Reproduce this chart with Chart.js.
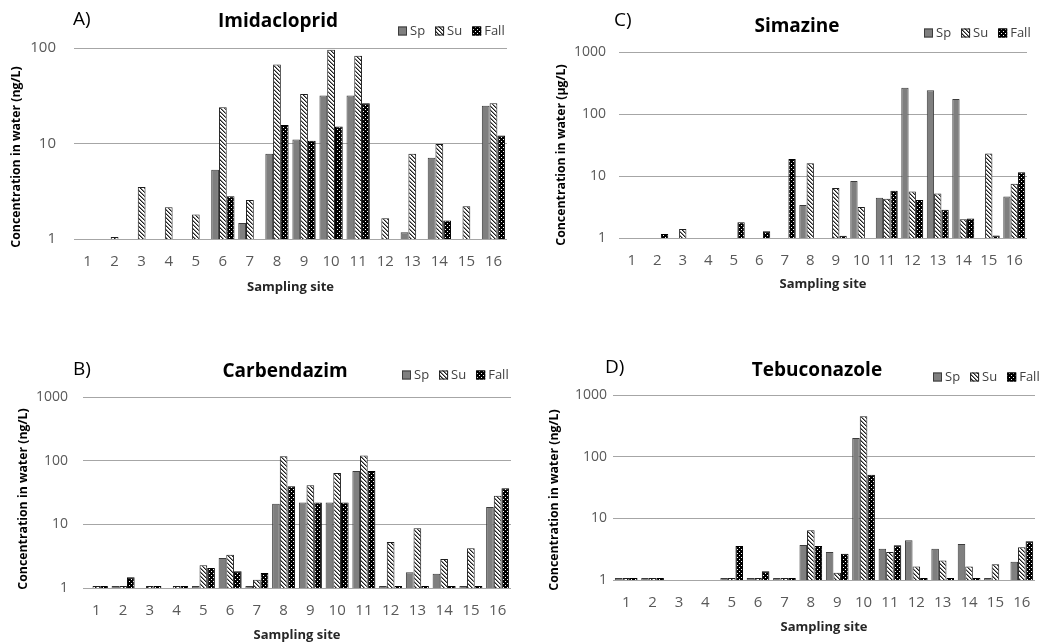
<!DOCTYPE html>
<html lang="en">
<head>
<meta charset="UTF-8">
<title>Concentration in water by sampling site</title>
<script src="https://cdn.jsdelivr.net/npm/chart.js"></script>
<style>
  body { margin: 0; background: #fff; width: 1047px; height: 644px; position: relative; overflow: hidden; }
  canvas { position: absolute; }
</style>
</head>
<body>
<canvas id="chartA" width="520" height="300" style="left:0;top:0"></canvas>
<canvas id="chartC" width="527" height="300" style="left:520px;top:0"></canvas>
<canvas id="chartB" width="520" height="304" style="left:0;top:340px"></canvas>
<canvas id="chartD" width="527" height="304" style="left:520px;top:340px"></canvas>

<script>
// sampling sites on the x axis
const sites = ['1', '2', '3', '4', '5', '6', '7', '8', '9', '10', '11', '12', '13', '14', '15', '16'];

// A) Imidacloprid (ng/L)
const imidaclopridSp   = [null, null, null, null, null, 5.3, 1.47, 7.8, 11, 31.8, 31.8, null, 1.18, 7.1, null, 24.9];
const imidaclopridSu   = [null, 1.05, 3.5, 2.15, 1.8, 24, 2.56, 67, 33, 96, 83, 1.65, 7.8, 9.9, 2.2, 26.4];
const imidaclopridFall = [null, null, null, null, null, 2.8, null, 15.6, 10.7, 15.1, 26.4, null, null, 1.56, null, 12.1];

// B) Carbendazim (ng/L)
const carbendazimSp   = [null, 1, null, null, 1, 2.96, 1, 21, 22, 22, 69, 1, 1.76, 1.68, 1, 18.7];
const carbendazimSu   = [1, 1, 1, 1, 2.27, 3.34, 1.35, 117, 41, 64, 121, 5.3, 8.7, 2.85, 4.2, 28.2];
const carbendazimFall = [1, 1.47, 1, 1, 2.06, 1.83, 1.72, 39.5, 22, 22, 69, 1, 1, 1, 1, 37];

// C) Simazine (µg/L)
const simazineSp   = [null, null, null, null, null, null, null, 3.4, null, 8.3, 4.45, 264, 242, 175, null, 4.67];
const simazineSu   = [null, null, 1.4, null, null, null, null, 16, 6.4, 3.15, 4.3, 5.6, 5.2, 2.0, 23, 7.5];
const simazineFall = [null, 1.16, null, null, 1.8, 1.28, 18.8, null, 1.09, null, 5.8, 4.1, 2.85, 2.07, 1.1, 11.5];

// D) Tebuconazole (ng/L)
const tebuconazoleSp   = [1, 1, null, null, 1, 1, 1, 3.7, 2.85, 201, 3.22, 4.4, 3.22, 3.84, 1, 1.98];
const tebuconazoleSu   = [1, 1, null, null, 1, 1, 1, 6.4, 1.31, 451, 2.85, 1.65, 2.08, 1.65, 1.8, 3.39];
const tebuconazoleFall = [1, 1, null, null, 3.56, 1.38, 1, 3.56, 2.67, 51, 3.65, 1, 1, 1, null, 4.24];

// y tick values (log axis)
const ticksToHundred = [1, 10, 100];
const ticksToThousand = [1, 10, 100, 1000];

const FONT = '"Open Sans", "DejaVu Sans", sans-serif';

// diagonal hatch for summer
function hatchPattern() {
  const c = document.createElement('canvas');
  c.width = c.height = 4;
  const g = c.getContext('2d');
  g.fillStyle = '#ffffff';
  g.fillRect(0, 0, 4, 4);
  for (let i = 0; i < 4; i++) {
    g.fillStyle = '#1e1e1e';
    g.fillRect(i, i, 1, 1);
    g.fillStyle = '#8c8c8c';
    g.fillRect((i + 1) % 4, i, 1, 1);
  }
  return g.createPattern(c, 'repeat');
}

// black with white dots for fall
function dotPattern() {
  const c = document.createElement('canvas');
  c.width = c.height = 4;
  const g = c.getContext('2d');
  g.fillStyle = '#000000';
  g.fillRect(0, 0, 4, 4);
  g.fillStyle = '#ffffff';
  g.fillRect(1, 1, 1, 1);
  g.fillRect(3, 3, 1, 1);
  return g.createPattern(c, 'repeat');
}

const hatch = hatchPattern();
const dots = dotPattern();

// panel letter, title, rotated y title and the small legend
const panelText = {
  id: 'panelText',
  afterDraw(chart, args, o) {
    const ctx = chart.ctx;
    ctx.save();
    ctx.textBaseline = 'middle';
    ctx.fillStyle = '#000';

    ctx.font = '19px ' + FONT;
    ctx.textAlign = 'left';
    ctx.fillText(o.letter, o.letterX, o.letterY);

    ctx.font = 'bold 19px ' + FONT;
    ctx.textAlign = 'center';
    ctx.fillText(o.title, o.titleX, o.titleY);

    ctx.save();
    ctx.translate(o.yTitleX, o.yTitleY);
    ctx.rotate(-Math.PI / 2);
    ctx.font = 'bold 12.3px ' + FONT;
    ctx.fillText(o.yTitle, 0, 0);
    ctx.restore();

    let x = o.legendX;
    const y = o.legendY;
    ctx.font = '13px ' + FONT;
    ctx.textAlign = 'left';
    chart.data.datasets.forEach(ds => {
      ctx.fillStyle = ds.backgroundColor;
      ctx.fillRect(x, y - 4.5, 9, 9);
      ctx.strokeStyle = ds.borderColor;
      ctx.lineWidth = 1;
      ctx.strokeRect(x + 0.5, y - 4, 8, 8);
      ctx.fillStyle = '#404040';
      ctx.fillText(ds.label, x + 12, y);
      x += 12 + ctx.measureText(ds.label).width + 10;
    });
    ctx.restore();
  }
};

function makeChart(id, sp, su, fall, yTicks, box, text) {
  return new Chart(document.getElementById(id), {
    type: 'bar',
    data: {
      labels: sites,
      datasets: [
        { label: 'Sp', data: sp, backgroundColor: '#7f7f7f', borderColor: '#3c3c3c' },
        { label: 'Su', data: su, backgroundColor: hatch, borderColor: '#1e1e1e' },
        { label: 'Fall', data: fall, backgroundColor: dots, borderColor: '#000000' }
      ]
    },
    options: {
      responsive: false,
      animation: false,
      layout: { padding: { top: box.top, right: box.w - box.right, bottom: 0, left: 0 } },
      datasets: {
        bar: { borderWidth: 1, categoryPercentage: 0.86, barPercentage: 1, minBarLength: 2 }
      },
      plugins: {
        legend: { display: false },
        tooltip: { enabled: false },
        panelText: text
      },
      scales: {
        x: {
          grid: { display: false },
          border: { display: false },
          ticks: { color: '#595959', font: { family: FONT, size: 15 }, padding: 6, maxRotation: 0, autoSkip: false },
          title: {
            display: true, text: 'Sampling site', color: '#262626',
            font: { family: FONT, size: 13, weight: 'bold' },
            padding: { top: 0, bottom: box.xTitlePad }
          },
          afterFit: s => { s.height = box.h - box.bottom; }
        },
        y: {
          type: 'logarithmic',
          min: yTicks[0],
          max: yTicks[yTicks.length - 1],
          afterBuildTicks: s => { s.ticks = yTicks.map(v => ({ value: v })); },
          ticks: { color: '#595959', font: { family: FONT, size: box.yFont }, padding: box.yPad, callback: v => String(v) },
          grid: { color: '#a6a6a6', lineWidth: 1, drawTicks: false },
          border: { display: false },
          afterFit: s => { s.width = box.left; }
        }
      }
    },
    plugins: [panelText]
  });
}

makeChart('chartA', imidaclopridSp, imidaclopridSu, imidaclopridFall, ticksToHundred,
  { w: 520, h: 300, left: 74, right: 507, top: 48, bottom: 239, yPad: 18, yFont: 15, xTitlePad: 5 },
  { letter: 'A)', letterX: 73, letterY: 20, title: 'Imidacloprid', titleX: 278, titleY: 22,
    yTitle: 'Concentration in water (ng/L)', yTitleX: 16, yTitleY: 157, legendX: 398, legendY: 31 });

makeChart('chartC', simazineSp, simazineSu, simazineFall, ticksToThousand,
  { w: 527, h: 300, left: 99, right: 507, top: 52, bottom: 238, yPad: 13, yFont: 14, xTitlePad: 8 },
  { letter: 'C)', letterX: 94, letterY: 21, title: 'Simazine', titleX: 277, titleY: 27,
    yTitle: 'Concentration in water (µg/L)', yTitleX: 41, yTitleY: 155, legendX: 404, legendY: 33 });

makeChart('chartB', carbendazimSp, carbendazimSu, carbendazimFall, ticksToThousand,
  { w: 520, h: 304, left: 83, right: 511, top: 57, bottom: 248, yPad: 15, yFont: 14, xTitlePad: 1 },
  { letter: 'B)', letterX: 73, letterY: 30, title: 'Carbendazim', titleX: 285, titleY: 32,
    yTitle: 'Concentration in water (ng/L)', yTitleX: 23, yTitleY: 159, legendX: 402, legendY: 35 });

makeChart('chartD', tebuconazoleSp, tebuconazoleSu, tebuconazoleFall, ticksToThousand,
  { w: 527, h: 304, left: 93, right: 515, top: 55, bottom: 240, yPad: 6, yFont: 14, xTitlePad: 9 },
  { letter: 'D)', letterX: 85, letterY: 28, title: 'Tebuconazole', titleX: 297, titleY: 31,
    yTitle: 'Concentration in water (ng/L)', yTitleX: 34, yTitleY: 160, legendX: 413, legendY: 37 });
</script>
</body>
</html>
